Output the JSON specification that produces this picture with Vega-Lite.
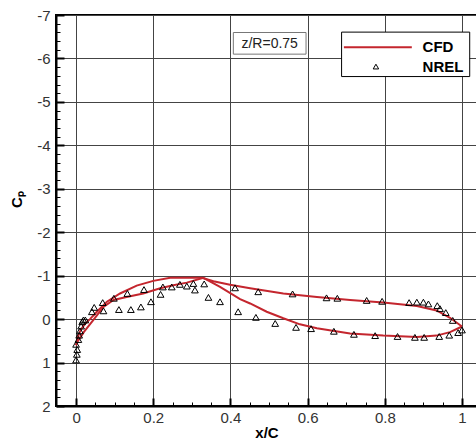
{
  "$schema": "https://vega.github.io/schema/vega-lite/v6.json",
  "width": 421,
  "height": 391,
  "autosize": {"type": "none"},
  "padding": {"left": 56, "top": 15, "right": 0, "bottom": 37},
  "background": "white",
  "config": {
    "view": {"stroke": "black", "strokeWidth": 2},
    "font": "Liberation Sans"
  },
  "resolve": {"axis": {"x": "independent", "y": "independent"}},
  "datasets": {
    "cfd": [
      {"surface": "upper", "x": 0.0, "cp": 0.6},
      {"surface": "upper", "x": 0.005, "cp": 0.4},
      {"surface": "upper", "x": 0.012, "cp": 0.25},
      {"surface": "upper", "x": 0.022, "cp": 0.12},
      {"surface": "upper", "x": 0.036, "cp": 0.0},
      {"surface": "upper", "x": 0.054, "cp": -0.17},
      {"surface": "upper", "x": 0.08, "cp": -0.4},
      {"surface": "upper", "x": 0.114, "cp": -0.59},
      {"surface": "upper", "x": 0.157, "cp": -0.77},
      {"surface": "upper", "x": 0.2, "cp": -0.88},
      {"surface": "upper", "x": 0.244, "cp": -0.95},
      {"surface": "upper", "x": 0.287, "cp": -0.95},
      {"surface": "upper", "x": 0.326, "cp": -0.95},
      {"surface": "upper", "x": 0.356, "cp": -0.87},
      {"surface": "upper", "x": 0.399, "cp": -0.79},
      {"surface": "upper", "x": 0.451, "cp": -0.71},
      {"surface": "upper", "x": 0.537, "cp": -0.59},
      {"surface": "upper", "x": 0.624, "cp": -0.51},
      {"surface": "upper", "x": 0.71, "cp": -0.44},
      {"surface": "upper", "x": 0.796, "cp": -0.38},
      {"surface": "upper", "x": 0.883, "cp": -0.3},
      {"surface": "upper", "x": 0.934, "cp": -0.2},
      {"surface": "upper", "x": 0.969, "cp": -0.03},
      {"surface": "upper", "x": 1.0, "cp": 0.17},
      {"surface": "lower", "x": 0.0, "cp": 0.6},
      {"surface": "lower", "x": 0.005, "cp": 0.5},
      {"surface": "lower", "x": 0.02, "cp": 0.3},
      {"surface": "lower", "x": 0.045, "cp": 0.02},
      {"surface": "lower", "x": 0.071, "cp": -0.28},
      {"surface": "lower", "x": 0.097, "cp": -0.44},
      {"surface": "lower", "x": 0.131, "cp": -0.51},
      {"surface": "lower", "x": 0.174, "cp": -0.59},
      {"surface": "lower", "x": 0.218, "cp": -0.71},
      {"surface": "lower", "x": 0.252, "cp": -0.78},
      {"surface": "lower", "x": 0.287, "cp": -0.84},
      {"surface": "lower", "x": 0.33, "cp": -0.95},
      {"surface": "lower", "x": 0.373, "cp": -0.74},
      {"surface": "lower", "x": 0.425, "cp": -0.46},
      {"surface": "lower", "x": 0.451, "cp": -0.36},
      {"surface": "lower", "x": 0.494, "cp": -0.17},
      {"surface": "lower", "x": 0.537, "cp": -0.02},
      {"surface": "lower", "x": 0.58, "cp": 0.12},
      {"surface": "lower", "x": 0.624, "cp": 0.21},
      {"surface": "lower", "x": 0.71, "cp": 0.33},
      {"surface": "lower", "x": 0.796, "cp": 0.38},
      {"surface": "lower", "x": 0.883, "cp": 0.41},
      {"surface": "lower", "x": 0.934, "cp": 0.38},
      {"surface": "lower", "x": 0.969, "cp": 0.3},
      {"surface": "lower", "x": 1.0, "cp": 0.17}
    ],
    "nrel": [
      {"x": 0.0, "cp": 0.94}, {"x": 0.002, "cp": 0.81}, {"x": 0.003, "cp": 0.7},
      {"x": 0.0, "cp": 0.58}, {"x": 0.006, "cp": 0.47}, {"x": 0.008, "cp": 0.37},
      {"x": 0.01, "cp": 0.27}, {"x": 0.013, "cp": 0.16}, {"x": 0.016, "cp": 0.06},
      {"x": 0.019, "cp": 0.02}, {"x": 0.024, "cp": 0.02},
      {"x": 0.041, "cp": -0.17}, {"x": 0.047, "cp": -0.27}, {"x": 0.069, "cp": -0.38},
      {"x": 0.098, "cp": -0.48}, {"x": 0.133, "cp": -0.59}, {"x": 0.176, "cp": -0.68},
      {"x": 0.225, "cp": -0.74}, {"x": 0.248, "cp": -0.74}, {"x": 0.269, "cp": -0.8},
      {"x": 0.287, "cp": -0.76}, {"x": 0.304, "cp": -0.82}, {"x": 0.308, "cp": -0.67},
      {"x": 0.332, "cp": -0.81}, {"x": 0.412, "cp": -0.72}, {"x": 0.472, "cp": -0.63},
      {"x": 0.561, "cp": -0.58}, {"x": 0.649, "cp": -0.49}, {"x": 0.677, "cp": -0.48},
      {"x": 0.753, "cp": -0.43}, {"x": 0.793, "cp": -0.41}, {"x": 0.863, "cp": -0.38},
      {"x": 0.883, "cp": -0.39}, {"x": 0.9, "cp": -0.39}, {"x": 0.913, "cp": -0.35},
      {"x": 0.936, "cp": -0.31}, {"x": 0.943, "cp": -0.24}, {"x": 0.958, "cp": -0.15},
      {"x": 0.976, "cp": 0.03}, {"x": 1.0, "cp": 0.25},
      {"x": 0.071, "cp": -0.19}, {"x": 0.111, "cp": -0.22}, {"x": 0.142, "cp": -0.22},
      {"x": 0.168, "cp": -0.28}, {"x": 0.194, "cp": -0.4}, {"x": 0.219, "cp": -0.57},
      {"x": 0.343, "cp": -0.5}, {"x": 0.373, "cp": -0.4}, {"x": 0.42, "cp": -0.17},
      {"x": 0.466, "cp": -0.04}, {"x": 0.516, "cp": 0.1}, {"x": 0.57, "cp": 0.19},
      {"x": 0.609, "cp": 0.22}, {"x": 0.668, "cp": 0.28}, {"x": 0.72, "cp": 0.35},
      {"x": 0.775, "cp": 0.38}, {"x": 0.833, "cp": 0.4}, {"x": 0.878, "cp": 0.42},
      {"x": 0.902, "cp": 0.42}, {"x": 0.941, "cp": 0.4}, {"x": 0.967, "cp": 0.37},
      {"x": 0.99, "cp": 0.31}
    ]
  },
  "layer": [
    {
      "data": {"name": "cfd"},
      "mark": {"type": "line", "color": "#c4262e", "strokeWidth": 2, "clip": true},
      "encoding": {
        "x": {
          "field": "x", "type": "quantitative",
          "scale": {"domain": [-0.052, 1.0389], "nice": false, "zero": false},
          "axis": {
            "title": "x/C",
            "titleFont": "Liberation Sans", "titleFontSize": 15, "titleFontWeight": "bold", "titleColor": "black",
            "titleBaseline": "middle", "titleY": 26,
            "values": [0, 0.05, 0.1, 0.15, 0.2, 0.25, 0.3, 0.35, 0.4, 0.45, 0.5, 0.55, 0.6, 0.65, 0.7, 0.75, 0.8, 0.85, 0.9, 0.95, 1],
            "labelExpr": "abs(datum.value*5 - round(datum.value*5)) < 0.001 ? toString(round(datum.value*10)/10) : ''",
            "labelOverlap": false,
            "labelFont": "Liberation Sans", "labelFontSize": 15, "labelColor": "#333",
            "labelPadding": 12,
            "domain": true, "domainColor": "black", "domainWidth": 2,
            "ticks": true, "tickColor": "black",
            "tickSize": {"condition": {"test": "abs(datum.value*5 - round(datum.value*5)) < 0.001", "value": -8}, "value": -4},
            "tickWidth": {"condition": {"test": "abs(datum.value*5 - round(datum.value*5)) < 0.001", "value": 2}, "value": 1},
            "grid": true, "gridColor": "#444", "gridWidth": 1,
            "gridOpacity": {"condition": {"test": "abs(datum.value*5 - round(datum.value*5)) < 0.001", "value": 1}, "value": 0}
          }
        },
        "y": {
          "field": "cp", "type": "quantitative",
          "scale": {"domain": [-7, 2], "reverse": true, "nice": false, "zero": false},
          "axis": {
            "title": "Cₚ",
            "titleFont": "Liberation Sans", "titleFontSize": 15, "titleFontWeight": "bold", "titleColor": "black",
            "titleAngle": 270, "titleAlign": "center", "titleBaseline": "middle", "titleX": -40, "titleY": 184,
            "values": [-7, -6.8, -6.6, -6.4, -6.2, -6, -5.8, -5.6, -5.4, -5.2, -5, -4.8, -4.6, -4.4, -4.2, -4, -3.8, -3.6, -3.4, -3.2, -3, -2.8, -2.6, -2.4, -2.2, -2, -1.8, -1.6, -1.4, -1.2, -1, -0.8, -0.6, -0.4, -0.2, 0, 0.2, 0.4, 0.6, 0.8, 1, 1.2, 1.4, 1.6, 1.8, 2],
            "labelExpr": "abs(datum.value - round(datum.value)) < 0.001 ? toString(round(datum.value)) : ''",
            "labelOverlap": false,
            "labelFont": "Liberation Sans", "labelFontSize": 15, "labelColor": "#333",
            "labelPadding": 14,
            "domain": true, "domainColor": "black", "domainWidth": 2,
            "ticks": true, "tickColor": "black",
            "tickSize": {"condition": {"test": "abs(datum.value - round(datum.value)) < 0.001", "value": -8}, "value": -4},
            "tickWidth": {"condition": {"test": "abs(datum.value - round(datum.value)) < 0.001", "value": 2}, "value": 1},
            "grid": true, "gridColor": "#444", "gridWidth": 1,
            "gridOpacity": {"condition": {"test": "abs(datum.value - round(datum.value)) < 0.001", "value": 1}, "value": 0}
          }
        },
        "detail": {"field": "surface"}
      }
    },
    {
      "data": {"name": "nrel"},
      "mark": {"type": "point", "shape": "triangle-up", "filled": false, "stroke": "black", "strokeWidth": 1, "size": 45, "opacity": 1},
      "encoding": {
        "x": {"field": "x", "type": "quantitative", "axis": null},
        "y": {"field": "cp", "type": "quantitative", "axis": null}
      }
    },
    {
      "data": {"values": [{}]},
      "mark": {"type": "rect", "fill": "white", "stroke": "black", "strokeWidth": 1},
      "encoding": {
        "x": {"datum": 0.688, "axis": null}, "x2": {"datum": 1.02},
        "y": {"datum": -6.606, "axis": null}, "y2": {"datum": -5.583}
      }
    },
    {
      "data": {"values": [{}]},
      "mark": {"type": "rule", "color": "#c4262e", "strokeWidth": 2},
      "encoding": {
        "x": {"datum": 0.694, "axis": null}, "x2": {"datum": 0.87},
        "y": {"datum": -6.26, "axis": null}
      }
    },
    {
      "data": {"values": [{}]},
      "mark": {"type": "point", "shape": "triangle-up", "filled": false, "stroke": "black", "strokeWidth": 1, "size": 30, "opacity": 1},
      "encoding": {
        "x": {"datum": 0.777, "axis": null},
        "y": {"datum": -5.813, "axis": null}
      }
    },
    {
      "data": {"values": [{"label": "CFD", "ly": -6.26}, {"label": "NREL", "ly": -5.8}]},
      "mark": {"type": "text", "align": "left", "baseline": "middle", "font": "Liberation Sans", "fontSize": 15, "fontWeight": "bold", "color": "black"},
      "encoding": {
        "x": {"datum": 0.898, "axis": null},
        "y": {"field": "ly", "type": "quantitative", "axis": null},
        "text": {"field": "label"}
      }
    },
    {
      "data": {"values": [{}]},
      "mark": {"type": "rect", "fill": "white", "stroke": "#777", "strokeWidth": 1},
      "encoding": {
        "x": {"datum": 0.4075, "axis": null}, "x2": {"datum": 0.5959},
        "y": {"datum": -6.597, "axis": null}, "y2": {"datum": -6.099}
      }
    },
    {
      "data": {"values": [{}]},
      "mark": {"type": "text", "align": "center", "baseline": "middle", "font": "Liberation Sans", "fontSize": 14, "color": "#222", "text": "z/R=0.75"},
      "encoding": {
        "x": {"datum": 0.5017, "axis": null},
        "y": {"datum": -6.336, "axis": null}
      }
    }
  ]
}
